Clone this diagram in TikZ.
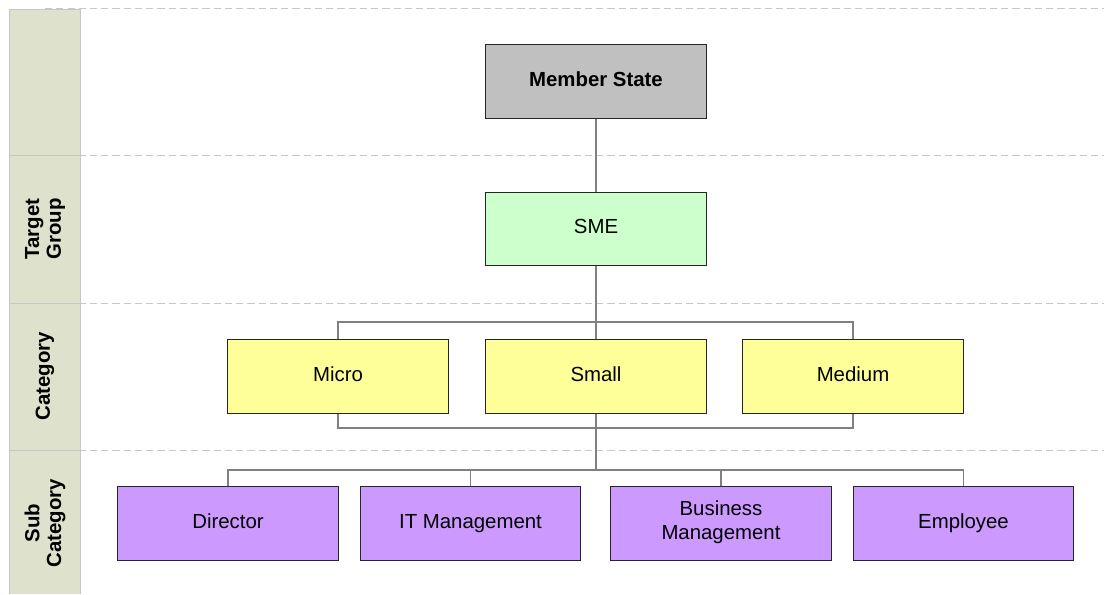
\documentclass[tikz,border=0pt]{standalone}
\usepackage{fontspec}
\setmainfont{Liberation Sans}
\usepackage{xcolor}
\usepackage{tikz}

\definecolor{bandfill}{HTML}{DEE2CD}
\definecolor{msgray}{HTML}{C0C0C0}
\definecolor{smegreen}{HTML}{CCFFCC}
\definecolor{catyellow}{HTML}{FFFF99}
\definecolor{subpurple}{HTML}{CC99FF}

\begin{document}
\begin{tikzpicture}[
                x=0.025cm, y=-0.025cm,
                every node/.style={align=center, font=\fontsize{14.5}{17}\selectfont},
                main node/.style={draw=black!85, line width=0.7pt, minimum width=5.5cm, minimum height=1.83cm, inner sep=0pt, execute at begin node=\strut},
                band label/.style={rotate=90, font=\fontsize{14.5}{15.5}\selectfont\bfseries},
                lane/.style={draw=black!22, dashed, dash pattern=on 5pt off 3pt, line width=0.7pt},
                edge/.style={-, draw=black!50, line width=1.1pt}
            ]
            \useasboundingbox (0,0) rectangle (1104,594);

            % Lanes
            \foreach \y in {8,155,303,450}
                \draw[lane] (45,\y) -- (1104,\y);
            \fill[bandfill] (9,9) rectangle (80,594);
            \draw[black!22, line width=0.7pt] (80,9) -- (80,594);
            \draw[black!22, line width=0.7pt] (9,9) -- (9,594);
            \foreach \y in {9,155,303,450}
                \draw[black!22, line width=0.7pt] (9,\y) -- (80,\y);
            \node[band label] (TG) at (45,229) {Target\\Group};
            \node[band label] (CA) at (45,376) {Category};
            \node[band label] (SC) at (45,523) {Sub\\Category};

            % Nodes
            \node[main node, fill=msgray, font=\fontsize{14.5}{17}\selectfont\bfseries] (MS) at (596,81.5) {Member State};
            \node[main node, fill=smegreen] (SME) at (596,229) {SME};
            \node[main node, fill=catyellow] (Micro) at (338,376.5) {Micro};
            \node[main node, fill=catyellow] (Small) at (596,376.5) {Small};
            \node[main node, fill=catyellow] (Medium) at (853,376.5) {Medium};
            \node[main node, fill=subpurple] (Dir) at (228,523.5) {Director};
            \node[main node, fill=subpurple] (ITM) at (470.5,523.5) {IT Management};
            \node[main node, fill=subpurple] (BM) at (721,523.5) {Business\\Management};
            \node[main node, fill=subpurple] (Emp) at (963.5,523.5) {Employee};

            \coordinate (up) at (596,322);
            \coordinate (down) at (596,428);
            \coordinate (split) at (596,470);

            % Edges
            \draw[edge] (MS) -- (SME);
            \draw[edge] (SME) -- (Small);
            \draw[edge] (Micro.north) -- (Micro.north |- up) -- (Medium.north |- up) -- (Medium.north);
            \draw[edge] (Micro.south) -- (Micro.south |- down) -- (Medium.south |- down) -- (Medium.south);
            \draw[edge] (Small.south) -- (split);
            \draw[edge] (Dir.north) -- (Dir.north |- split) -- (Emp.north |- split) -- (Emp.north);
            \draw[edge] (ITM.north) -- (ITM.north |- split);
            \draw[edge] (BM.north) -- (BM.north |- split);

            \end{tikzpicture}
\end{document}
